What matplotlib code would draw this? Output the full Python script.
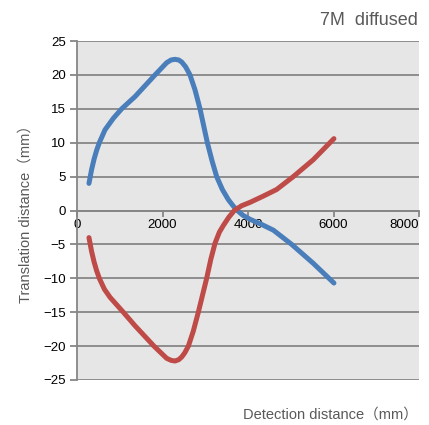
import matplotlib
matplotlib.use("Agg")
import matplotlib.pyplot as plt

plt.rcParams['font.family'] = ['Liberation Sans', 'Noto Sans CJK SC', 'DejaVu Sans']

# detection distance (mm) and translation distance (mm)
x_blue = [280, 340, 400, 460, 522, 655, 850, 1045, 1357, 1825, 2097, 2200, 2292, 2380, 2450, 2540, 2643, 2760, 2877, 3049, 3160, 3267, 3400, 3540, 3650, 3750, 3880, 4047, 4300, 4593, 5022, 5528, 6010]
y_blue = [4.0, 6.0, 7.6, 8.9, 10.0, 11.9, 13.6, 15.0, 16.8, 20.0, 21.8, 22.2, 22.3, 22.2, 21.9, 21.2, 20.0, 17.8, 15.0, 10.0, 7.3, 5.0, 3.1, 1.6, 0.7, 0.0, -0.7, -1.3, -2.0, -2.9, -5.0, -7.8, -10.7]
x_red = [280, 340, 400, 460, 522, 640, 772, 1083, 1357, 1800, 2097, 2200, 2292, 2380, 2450, 2520, 2605, 2720, 2838, 3033, 3130, 3230, 3330, 3424, 3550, 3680, 3850, 4047, 4350, 4670, 5060, 5528, 6010]
y_red = [-4.0, -6.0, -7.6, -8.9, -10.0, -11.6, -12.8, -15.0, -17.0, -20.0, -21.8, -22.1, -22.2, -22.0, -21.6, -21.0, -20.0, -17.8, -15.0, -10.0, -7.2, -4.8, -3.2, -2.2, -1.0, 0.0, 0.7, 1.2, 2.1, 3.1, 5.0, 7.5, 10.6]

xticks = [0, 2000, 4000, 6000, 8000]
yticks = [-25, -20, -15, -10, -5, 0, 5, 10, 15, 20, 25]

grey = '#868686'
text_grey = '#595959'

fig = plt.figure(figsize=(4.29, 4.25), dpi=100)
ax = fig.add_axes([0.1795, 0.1059, 0.7972, 0.7976])
ax.set_facecolor('#e6e6e6')

for t in yticks:
    ax.axhline(t, color=grey, lw=1.3, zorder=1)

ax.plot(x_blue, y_blue, color='#4a7ebb', lw=3.6, solid_capstyle='round', solid_joinstyle='round', zorder=3)
ax.plot(x_red, y_red, color='#be4b48', lw=3.6, solid_capstyle='round', solid_joinstyle='round', zorder=3)

ax.set_xlim(0, 8000)
ax.set_ylim(-25, 25)
ax.set_xticks(xticks)
ax.set_yticks(yticks)

for s in ['top', 'right']:
    ax.spines[s].set_visible(False)
ax.spines['bottom'].set_position(('data', 0))
ax.spines['bottom'].set_color(grey)
ax.spines['bottom'].set_linewidth(1.3)
ax.spines['left'].set_color(grey)
ax.spines['left'].set_linewidth(1.3)

ax.tick_params(axis='x', direction='out', length=4, width=1.3, color=grey, labelsize=9.5, pad=2)
ax.tick_params(axis='y', direction='out', length=5, width=1.3, color=grey, labelsize=9.5, pad=3)
ax.get_xticklabels()[-1].set_ha('right')

fig.text(0.975, 0.952, '7M  diffused', ha='right', va='center', fontsize=13, color=text_grey)
fig.text(0.975, 0.025, 'Detection distance（mm）', ha='right', va='center', fontsize=10.5, color=text_grey)
fig.text(0.06, 0.505, 'Translation distance（mm）', ha='center', va='center', rotation=90, fontsize=10.5, color=text_grey)

fig.savefig('out.png', dpi=100)
